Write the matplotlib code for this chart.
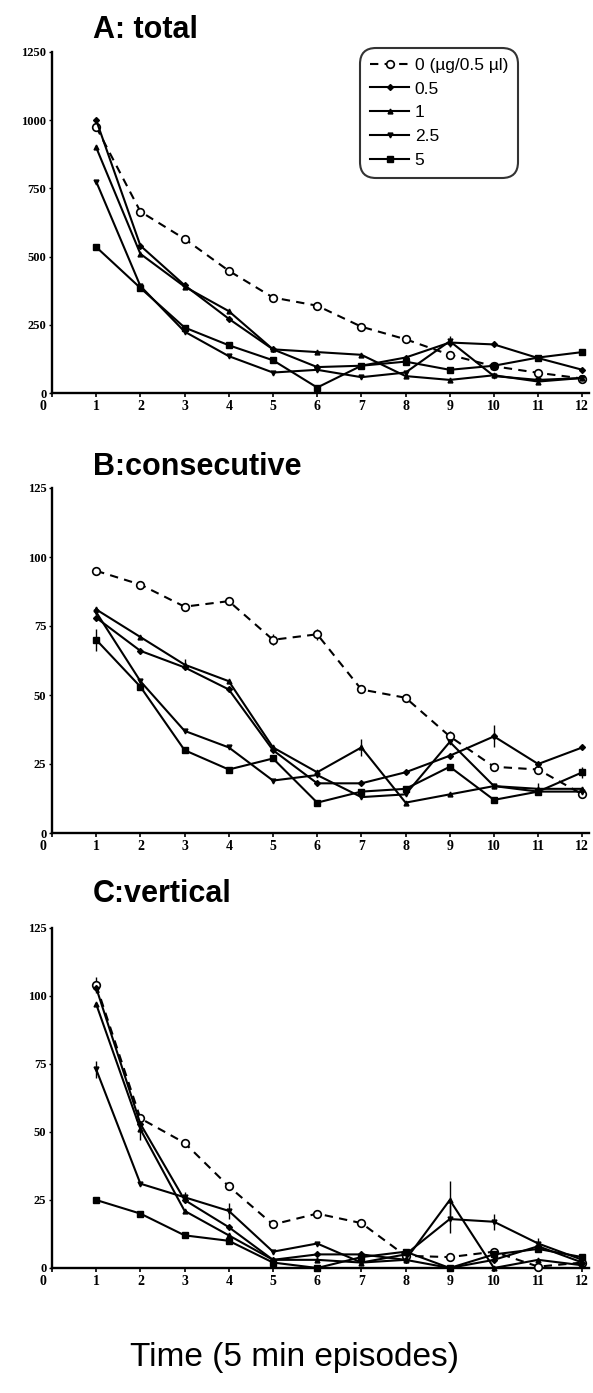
import matplotlib
matplotlib.use("Agg")
import matplotlib.pyplot as plt
from matplotlib.transforms import ScaledTranslation
import numpy as np

# ---- data -------------------------------------------------------------
episodes = list(range(1, 13))
dose_labels = ["0 (\u00b5g/0.5 \u00b5l)", "0.5", "1", "2.5", "5"]

# A: total activity
total_0 = [975, 665, 565, 448, 350, 320, 243, 197, 140, 98, 74, 53]
total_05 = [1000, 540, 395, 272, 160, 95, 100, 130, 185, 178, 128, 85]
total_1 = [900, 510, 390, 300, 160, 150, 140, 62, 48, 65, 42, 55]
total_25 = [775, 392, 225, 135, 75, 85, 58, 75, 190, 62, 48, 55]
total_5 = [535, 385, 240, 175, 120, 20, 100, 115, 85, 100, 130, 150]
total_err25 = [0, 0, 0, 0, 0, 0, 0, 0, 20, 0, 0, 0]

# B: consecutive
consec_0 = [95, 90, 82, 84, 70, 72, 52, 49, 35, 24, 23, 14]
consec_05 = [78, 66, 60, 52, 30, 18, 18, 22, 28, 35, 25, 31]
consec_1 = [81, 71, 61, 55, 31, 22, 31, 11, 14, 17, 16, 16]
consec_25 = [80, 55, 37, 31, 19, 21, 13, 14, 33, 17, 15, 15]
consec_5 = [70, 53, 30, 23, 27, 11, 15, 16, 24, 12, 15, 22]
consec_err0 = [0, 0, 0, 0, 2, 2, 0, 0, 2, 0, 0, 0]
consec_err05 = [0, 0, 0, 0, 0, 0, 0, 0, 0, 4, 0, 0]
consec_err1 = [0, 0, 2, 0, 0, 0, 3, 0, 0, 0, 2, 0]
consec_err5 = [4, 0, 0, 0, 0, 0, 0, 0, 0, 0, 0, 2]

# C: vertical
vert_0 = [104, 55, 46, 30, 16, 20, 16.5, 4.5, 4, 6, 0.5, 2]
vert_05 = [103, 53, 25, 15, 3, 5, 5, 3, 0, 3, 8, 2]
vert_1 = [97, 51, 21, 12, 3, 3, 2, 3, 25, 0, 3, 1]
vert_25 = [73, 31, 26, 21, 6, 9, 2, 5, 18, 17, 9, 3]
vert_5 = [25, 20, 12, 10, 2, 0, 4, 6, 0, 5, 7, 4]
vert_err0 = [3, 0, 0, 0, 0, 0, 0, 0, 0, 0, 0, 0]
vert_err1 = [0, 4, 0, 0, 0, 0, 0, 0, 7, 0, 0, 0]
vert_err25 = [3, 0, 2, 3, 0, 0, 0, 0, 5, 3, 2, 0]

x_ticks = list(range(0, 13))

# ---- styling ----------------------------------------------------------
sans = ["Liberation Sans", "DejaVu Sans"]
serif = ["Liberation Serif", "DejaVu Serif"]

styles = [
    dict(ls=(0, (4, 3)), marker="o", ms=5.5, mfc="white", mec="black", mew=1.2),
    dict(ls="-", marker="D", ms=3.0, mfc="black", mec="black"),
    dict(ls="-", marker="^", ms=3.5, mfc="black", mec="black"),
    dict(ls="-", marker="v", ms=3.5, mfc="black", mec="black"),
    dict(ls="-", marker="s", ms=4.5, mfc="black", mec="black"),
]

W, H = 593, 1393
fig = plt.figure(figsize=(W / 100, H / 100), dpi=100)
fig.patch.set_facecolor("white")


def px_axes(top, bottom, left=52, right=589):
    return fig.add_axes([left / W, 1 - bottom / H, (right - left) / W, (bottom - top) / H])


panels = [
    dict(top=52, bottom=393, title="A: total", title_y=38,
         series=[total_0, total_05, total_1, total_25, total_5],
         errs=[None, None, None, total_err25, None],
         ymax=1250, yticks=[0, 250, 500, 750, 1000, 1250]),
    dict(top=488, bottom=833, title="B:consecutive", title_y=475,
         series=[consec_0, consec_05, consec_1, consec_25, consec_5],
         errs=[consec_err0, consec_err05, consec_err1, None, consec_err5],
         ymax=125, yticks=[0, 25, 50, 75, 100, 125]),
    dict(top=928, bottom=1268, title="C:vertical", title_y=902,
         series=[vert_0, vert_05, vert_1, vert_25, vert_5],
         errs=[vert_err0, None, vert_err1, vert_err25, None],
         ymax=125, yticks=[0, 25, 50, 75, 100, 125]),
]

axes = []
for p in panels:
    ax = px_axes(p["top"], p["bottom"])
    axes.append(ax)
    for vals, err, st, lab in zip(p["series"], p["errs"], styles, dose_labels):
        ax.plot(episodes, vals, color="black", lw=1.5, label=lab, clip_on=False,
                zorder=3, **st)
        if err is not None:
            ax.errorbar(episodes, vals, yerr=err, fmt="none", ecolor="black",
                        elinewidth=1.0, capsize=0, zorder=2, clip_on=False)
    ax.set_xlim(0, 12.15)
    ax.set_ylim(0, p["ymax"])
    ax.set_xticks(x_ticks)
    ax.set_yticks(p["yticks"])
    ax.set_xticklabels([str(t) for t in x_ticks], fontfamily=serif,
                       fontweight="bold", fontsize=10)
    ax.set_yticklabels([str(t) for t in p["yticks"]], fontfamily=serif,
                       fontweight="bold", fontsize=9)
    for s in ("top", "right"):
        ax.spines[s].set_visible(False)
    for s in ("left", "bottom"):
        ax.spines[s].set_linewidth(1.7)
    ax.tick_params(axis="x", direction="out", length=3, width=1.2, pad=2)
    ax.tick_params(axis="y", direction="out", length=2.5, width=1.0, pad=1.5)
    # the "0" on the time axis sits just left of the vertical axis
    lbl0 = ax.get_xticklabels()[0]
    lbl0.set_transform(lbl0.get_transform() + ScaledTranslation(-9 / 100, 0, fig.dpi_scale_trans))
    fig.text(93 / W, 1 - p["title_y"] / H, p["title"], fontfamily=sans,
             fontweight="bold", fontsize=22, ha="left", va="baseline")

leg = axes[0].legend(loc="upper left", bbox_to_anchor=(360 / W, 1 - 48 / H),
                     bbox_transform=fig.transFigure, frameon=True, fancybox=True,
                     prop=dict(family=sans, size=12.5), handlelength=2.3,
                     handletextpad=0.3, labelspacing=0.5, borderpad=0.55,
                     borderaxespad=0)
frame = leg.get_frame()
frame.set_edgecolor("black")
frame.set_linewidth(1.5)
frame.set_boxstyle("round,pad=0,rounding_size=0.9")

fig.text(295 / W, 1 - 1366 / H, "Time (5 min episodes)", fontfamily=sans,
         fontsize=24, ha="center", va="baseline")

fig.savefig("out.png", dpi=100, facecolor="white")
